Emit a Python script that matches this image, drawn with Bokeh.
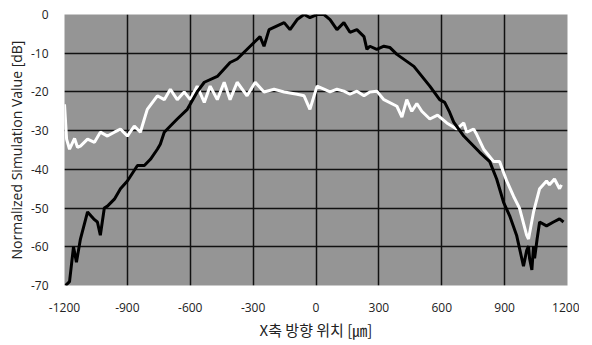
from bokeh.plotting import figure
from bokeh.models import FixedTicker, Range1d
from bokeh.embed import file_html
from bokeh.resources import INLINE

# Black curve (x in µm, value in dB)
black_x = [-1195, -1176, -1157, -1143, -1124, -1090, -1057, -1043, -1029, -1010, -995, -962, -933,
           -900, -852, -819, -790, -757, -743, -724, -695, -662, -614, -567, -533, -471, -410, -376,
           -314, -267, -248, -224, -152, -124, -90, -57, -29, 5, 38, 67, 100, 133, 162, 195, 229,
           243, 257, 290, 324, 352, 386, 467, 543, 590, 614, 638, 657, 705, 781, 829, 862, 895,
           924, 957, 990, 1005, 1014, 1019, 1030, 1038, 1043, 1055, 1067, 1100, 1133, 1162, 1181]
black_y = [-70, -69, -60, -64, -58, -51, -53, -53.6, -57, -50, -49.5, -47.7, -45,
           -43, -39, -39, -37.4, -34.8, -33.5, -30.4, -28.8, -27, -24.5, -20, -17.5, -16, -12.4, -11.5,
           -8.2, -5.7, -8.2, -3.9, -2.1, -3.9, -1.3, 0, -0.8, 0, 0, -1.3, -3.9, -2.1, -4.6, -3.9, -5.7,
           -9, -8.2, -9, -8.2, -8.5, -10.3, -13.4, -18.5, -22, -22.7, -25.3, -27.8, -31.4, -35.6, -38, -42.5, -48.5,
           -52, -57, -65, -61, -59.8, -63, -66, -59.8, -63, -58, -53.6, -54.6, -53.6, -52.8, -53.6]

# White curve
white_x = [-1200, -1190, -1176, -1152, -1138, -1124, -1090, -1057, -1029, -995, -962, -933, -900,
           -867, -838, -819, -805, -757, -724, -695, -662, -629, -600, -567, -533, -505, -471, -438,
           -410, -376, -329, -290, -248, -200, -152, -90, -57, -29, 5, 38, 67, 100, 133, 162, 195,
           229, 257, 290, 324, 386, 410, 433, 457, 481, 505, 543, 580, 624, 671, 705, 719, 752, 767,
           800, 848, 876, 910, 943, 971, 1005, 1014, 1038, 1067, 1100, 1114, 1138, 1162, 1171]
white_y = [-23.2, -32.2, -34.8, -32, -34.3, -34, -32.2, -33, -30.4, -31.4, -30.4, -29.6, -31.4,
           -28.8, -30.4, -27, -24.5, -21, -22, -19.3, -22, -20, -22, -18.5, -22.7, -18.5, -22, -17.5,
           -22, -17.5, -21, -17.5, -20, -19.3, -20, -20.6, -21, -24.5, -18.5, -19.3, -20, -19.3, -19.8, -20.6, -19.8,
           -21, -20, -19.8, -22, -23.7, -26.5, -22, -25, -23, -25, -27, -26, -28, -29.6, -28, -30.4, -29.6, -31,
           -34.8, -38, -38, -43, -47, -50, -57, -58, -51, -45, -43, -44, -42.5, -45, -44]

x_ticks = [-1200, -900, -600, -300, 0, 300, 600, 900, 1200]
y_ticks = [-70, -60, -50, -40, -30, -20, -10, 0]

p = figure(frame_width=503, frame_height=271, output_backend="svg", toolbar_location=None,
           x_range=Range1d(-1200, 1200), y_range=Range1d(-70, 0),
           min_border_left=64, min_border_right=12, min_border_top=14, min_border_bottom=44)

p.background_fill_color = "#959595"
p.border_fill_color = "white"
p.outline_line_color = None

p.xaxis.ticker = FixedTicker(ticks=x_ticks)
p.yaxis.ticker = FixedTicker(ticks=y_ticks)
p.xgrid.ticker = FixedTicker(ticks=x_ticks)
p.ygrid.ticker = FixedTicker(ticks=y_ticks)
p.grid.grid_line_color = "#111111"
p.grid.grid_line_width = 1.5
p.xaxis.major_label_overrides = {t: str(t) for t in x_ticks}
p.yaxis.major_label_overrides = {t: str(t) for t in y_ticks}

for ax in (p.xaxis, p.yaxis):
    ax.axis_line_color = None
    ax.major_tick_line_color = None
    ax.minor_tick_line_color = None
    ax.major_label_text_font = "Open Sans"
    ax.major_label_text_font_size = "12px"
    ax.major_label_text_color = "#222222"
    ax.axis_label_text_font_style = "normal"
    ax.axis_label_text_color = "#222222"

p.xaxis.major_label_standoff = 11
p.yaxis.major_label_standoff = 10
p.xaxis.axis_label = "X축 방향 위치 [㎛]"
p.xaxis.axis_label_text_font = "Noto Sans CJK KR"
p.xaxis.axis_label_text_font_size = "15px"
p.xaxis.axis_label_standoff = 4
p.yaxis.axis_label = "Normalized Simulation Value [dB]"
p.yaxis.axis_label_text_font = "Open Sans"
p.yaxis.axis_label_text_font_size = "14px"
p.yaxis.axis_label_standoff = 2

p.line(white_x, white_y, line_color="white", line_width=3)
p.line(black_x, black_y, line_color="black", line_width=3)

open("out.html", "w").write(file_html(p, INLINE))
